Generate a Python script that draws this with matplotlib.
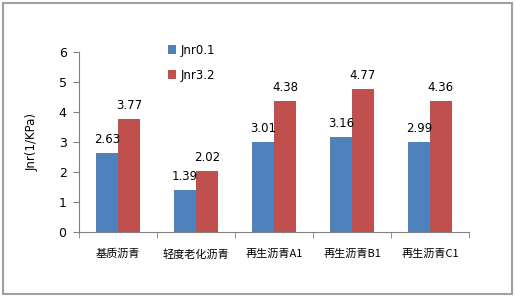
import matplotlib
matplotlib.use("Agg")
import numpy as np
from matplotlib import pyplot as plt
from matplotlib.patches import Rectangle

plt.rcParams['font.family'] = ['DejaVu Sans', 'Noto Sans CJK SC']

categories = ['基质沥青', '轻度老化沥青', '再生沥青A1', '再生沥青B1', '再生沥青C1']
jnr01 = [2.63, 1.39, 3.01, 3.16, 2.99]
jnr32 = [3.77, 2.02, 4.38, 4.77, 4.36]
series_names = ['Jnr0.1', 'Jnr3.2']

fig = plt.figure(figsize=(5.15, 2.98), dpi=100)
ax = fig.add_axes([0.1534, 0.2215, 0.7573, 0.604])

x = np.arange(len(categories))
w = 0.28
b1 = ax.bar(x - w / 2, jnr01, w, color='#4F81BD', label=series_names[0])
b2 = ax.bar(x + w / 2, jnr32, w, color='#C0504D', label=series_names[1])

for bars in (b1, b2):
    for r in bars:
        ax.annotate('%.2f' % r.get_height(), (r.get_x() + r.get_width() / 2, r.get_height()),
                    xytext=(0, 5), textcoords='offset points', ha='center', va='bottom',
                    fontsize=8.5, color='black')

ax.set_xlim(-0.5, len(categories) - 0.5)
ax.set_ylim(0, 6)
ax.set_yticks(range(7))
ax.set_xticks(np.arange(len(categories) + 1) - 0.5, minor=True)
ax.set_xticks(x)
ax.set_xticklabels(categories, fontsize=8, family=['Noto Sans CJK SC', 'DejaVu Sans'])
ax.tick_params(axis='x', which='major', length=0, pad=12)
ax.tick_params(axis='x', which='minor', length=4, color='#808080')
ax.tick_params(axis='y', labelsize=9, length=4, color='#808080', pad=5)
ax.set_ylabel('Jnr(1/KPa)', fontsize=8.5, labelpad=14)

for s in ('top', 'right'):
    ax.spines[s].set_visible(False)
ax.spines['left'].set_color('#808080')
ax.spines['bottom'].set_color('#808080')

ax.legend(loc='upper left', bbox_to_anchor=(0.2, 1.105), frameon=False, fontsize=8.5,
          handlelength=0.7, handleheight=0.7, labelspacing=1.0, handletextpad=0.4)

fig.patches.append(Rectangle((0.006, 0.013), 0.988, 0.977, transform=fig.transFigure,
                             fill=False, edgecolor='#A0A0A0', linewidth=1.5))

fig.savefig('out.png', dpi=100)
